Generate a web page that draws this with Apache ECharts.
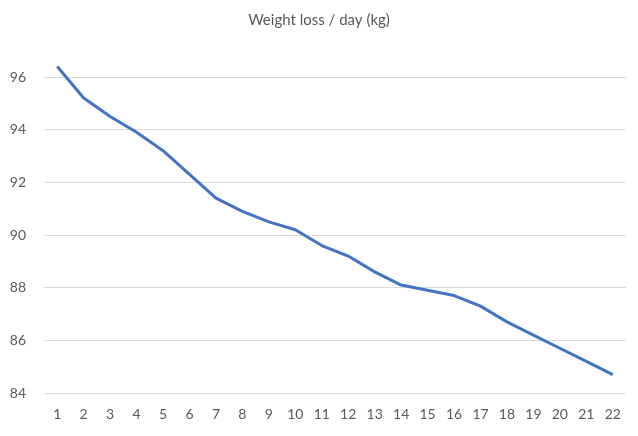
<!DOCTYPE html>
<html>
<head>
<meta charset="utf-8">
<script src="https://cdn.jsdelivr.net/npm/echarts@6/dist/echarts.min.js"></script>
<style>
html, body { margin: 0; padding: 0; background: #ffffff; }
#weightChart { width: 638px; height: 436px; }
</style>
</head>
<body>
<div id="weightChart"></div>
<script>
// days on the x axis
const days = ['1','2','3','4','5','6','7','8','9','10','11','12','13','14','15','16','17','18','19','20','21','22'];
// weight in kg
const weights = [96.4, 95.2, 94.5, 93.9, 93.2, 92.3, 91.4, 90.9, 90.5, 90.2, 89.6, 89.2, 88.6, 88.1, 87.9, 87.7, 87.3, 86.7, 86.2, 85.7, 85.2, 84.7];
const yTicks = [84, 86, 88, 90, 92, 94, 96];

let chart = echarts.init(document.getElementById('weightChart'));
chart.setOption({
    backgroundColor: '#ffffff',
    animation: false,
    title: {
        text: 'Weight loss / day (kg)',
        left: 'center',
        top: 8,
        textStyle: {
            fontFamily: 'Lato',
            fontSize: 15,
            fontWeight: 'normal',
            color: '#595959'
        }
    },
    grid: {
        left: 44,
        right: 12,
        top: 77,
        bottom: 43
    },
    xAxis: {
        type: 'category',
        boundaryGap: true,
        data: days,
        axisLine: { show: false },
        axisTick: { show: false },
        axisLabel: {
            margin: 14,
            fontFamily: 'Lato',
            fontSize: 14,
            color: '#595959',
            interval: 0
        }
    },
    yAxis: {
        type: 'value',
        min: yTicks[0],
        max: yTicks[yTicks.length - 1],
        interval: 2,
        axisLine: { show: false },
        axisTick: { show: false },
        splitLine: { lineStyle: { color: '#d9d9d9', width: 1 } },
        axisLabel: {
            margin: 18,
            fontFamily: 'Lato',
            fontSize: 14,
            color: '#595959'
        }
    },
    series: [{
        name: 'Weight',
        type: 'line',
        data: weights,
        clip: false,
        showSymbol: false,
        lineStyle: { color: '#4472C4', width: 3 },
        itemStyle: { color: '#4472C4' }
    }]
});
</script>
</body>
</html>
